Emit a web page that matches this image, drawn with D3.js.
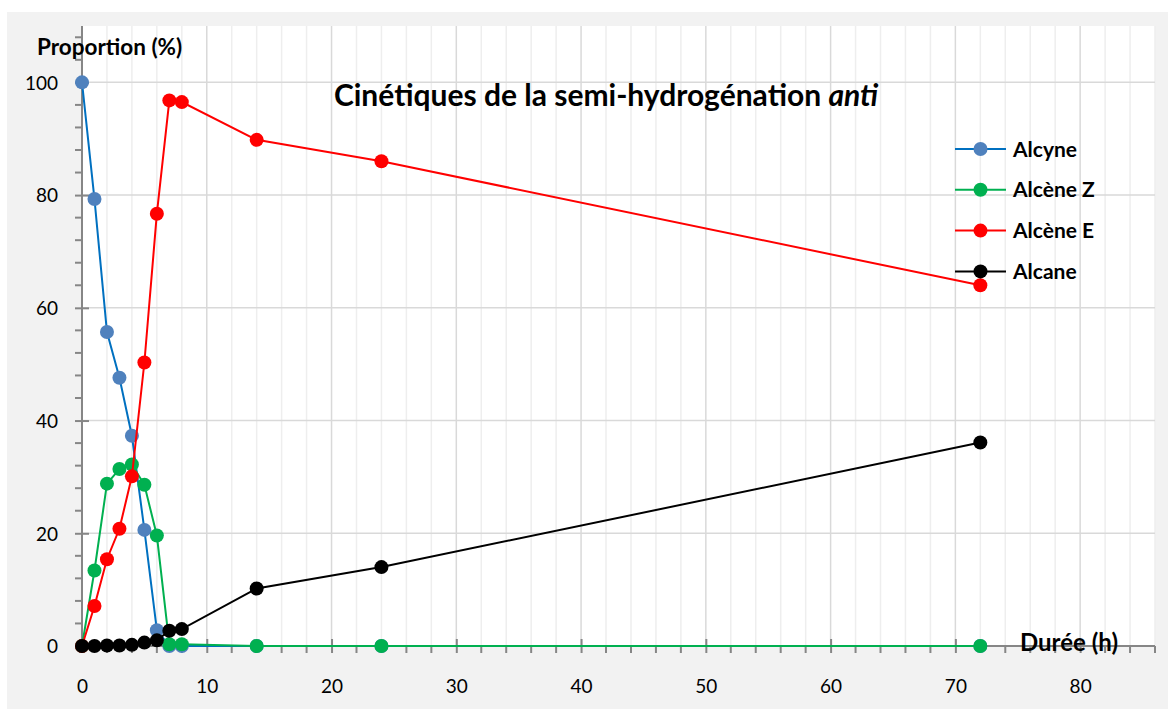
<!DOCTYPE html>
<html>
<head>
<meta charset="utf-8">
<script src="https://cdn.jsdelivr.net/npm/d3@7"></script>
<style>
  html, body { margin: 0; padding: 0; background: #ffffff; }
  svg { display: block; }
  text { font-family: Lato, "Open Sans", sans-serif; }
</style>
</head>
<body>
<svg id="chart" width="1168" height="709"></svg>
<script>
// Reaction times (h) and proportions (%) of each species
const hours = [0, 1, 2, 3, 4, 5, 6, 7, 8, 14, 24, 72];
const alcyne  = [100, 79.3, 55.7, 47.6, 37.3, 20.6, 2.8, 0, 0, 0, 0, 0];
const alceneZ = [0, 13.4, 28.8, 31.4, 32.2, 28.6, 19.6, 0.3, 0.3, 0, 0, 0];
const alceneE = [0, 7.1, 15.4, 20.8, 30.1, 50.3, 76.7, 96.8, 96.5, 89.8, 86.0, 64.0];
const alcane  = [0, 0, 0.1, 0.1, 0.2, 0.6, 1.0, 2.7, 3.0, 10.2, 14.0, 36.1];

const seriesNames = ["Alcyne", "Alcène Z", "Alcène E", "Alcane"];
const seriesValues = [alcyne, alceneZ, alceneE, alcane];
const lineColors = ["#0070c0", "#00b050", "#ff0000", "#000000"];
const markerColors = ["#4f81bd", "#00b050", "#ff0000", "#000000"];

const xTicks = [0, 10, 20, 30, 40, 50, 60, 70, 80];
const yTicks = [0, 20, 40, 60, 80, 100];

const svg = d3.select("#chart");

// Chart frame and plot area
svg.append("rect").attr("x", 7).attr("y", 12).attr("width", 1161).attr("height", 697).attr("fill", "#f2f2f2");

const x = d3.scaleLinear().domain([0, 86]).range([82, 1155]);
const y = d3.scaleLinear().domain([0, 110]).range([646, 26]);

svg.append("rect")
  .attr("x", x(0)).attr("y", y(110))
  .attr("width", x(86) - x(0)).attr("height", y(0) - y(110))
  .attr("fill", "#ffffff");

// Vertical gridlines every 2 h, darker on the tens
const vGrid = d3.range(2, 87, 2);
svg.append("g").selectAll("line").data(vGrid).join("line")
  .attr("x1", d => x(d)).attr("x2", d => x(d))
  .attr("y1", y(110)).attr("y2", y(0))
  .attr("stroke", d => d % 10 === 0 ? "#d9d9d9" : "#eeeeee")
  .attr("stroke-width", 1.5);

// Horizontal gridlines on major y ticks
svg.append("g").selectAll("line").data(yTicks.filter(d => d > 0)).join("line")
  .attr("x1", x(0)).attr("x2", x(86))
  .attr("y1", d => y(d)).attr("y2", d => y(d))
  .attr("stroke", "#d9d9d9").attr("stroke-width", 1.5);

// Y axis
const yAxis = d3.axisLeft(y).tickValues(yTicks).tickSize(7).tickPadding(17);
const gy = svg.append("g").attr("transform", `translate(${x(0)},0)`).call(yAxis);
gy.select(".domain").remove();
gy.selectAll(".tick line").attr("stroke", "#868686").attr("stroke-width", 2).attr("x2", 7).attr("x1", -7);
gy.selectAll(".tick text").attr("font-size", 19).attr("fill", "#000").attr("font-family", "Lato").attr("dy", "0.36em");
const yMinor = d3.range(4, 111, 4).filter(d => d % 20 !== 0);
svg.append("g").selectAll("line").data(yMinor).join("line")
  .attr("x1", x(0) - 7).attr("x2", x(0))
  .attr("y1", d => y(d)).attr("y2", d => y(d))
  .attr("stroke", "#868686").attr("stroke-width", 2);
svg.append("line").attr("x1", x(0)).attr("x2", x(0)).attr("y1", y(110)).attr("y2", y(0))
  .attr("stroke", "#868686").attr("stroke-width", 2);

// X axis
const xAxis = d3.axisBottom(x).tickValues(xTicks).tickSize(7).tickPadding(27);
const gx = svg.append("g").attr("transform", `translate(0,${y(0)})`).call(xAxis);
gx.select(".domain").remove();
gx.selectAll(".tick line").attr("stroke", "#868686").attr("stroke-width", 2).attr("y1", -7).attr("y2", 7);
gx.selectAll(".tick text").attr("font-size", 19).attr("fill", "#000").attr("font-family", "Lato");
const xMinor = d3.range(2, 87, 2).filter(d => d % 10 !== 0);
svg.append("g").selectAll("line").data(xMinor).join("line")
  .attr("x1", d => x(d)).attr("x2", d => x(d))
  .attr("y1", y(0)).attr("y2", y(0) + 7)
  .attr("stroke", "#868686").attr("stroke-width", 2);
svg.append("line").attr("x1", x(0)).attr("x2", x(86)).attr("y1", y(0)).attr("y2", y(0))
  .attr("stroke", "#868686").attr("stroke-width", 2);

// Series: line then markers, drawn in legend order
const line = d3.line().x(d => x(d[0])).y(d => y(d[1]));
seriesValues.forEach((vals, i) => {
  const pts = hours.map((h, j) => [h, vals[j]]);
  const g = svg.append("g");
  g.append("path").datum(pts).attr("d", line)
    .attr("fill", "none").attr("stroke", lineColors[i]).attr("stroke-width", 2);
  g.selectAll("circle").data(pts).join("circle")
    .attr("cx", d => x(d[0])).attr("cy", d => y(d[1])).attr("r", 7)
    .attr("fill", markerColors[i]);
});

// Legend
const legend = svg.append("g");
seriesNames.forEach((name, i) => {
  const ly = 149 + i * 40.8;
  legend.append("line").attr("x1", 955).attr("x2", 1006).attr("y1", ly).attr("y2", ly)
    .attr("stroke", lineColors[i]).attr("stroke-width", 2);
  legend.append("circle").attr("cx", 980.5).attr("cy", ly).attr("r", 7).attr("fill", markerColors[i]);
  legend.append("text").attr("x", 1013).attr("y", ly).attr("dy", "0.36em")
    .attr("font-size", 21).attr("font-weight", "bold").attr("fill", "#000").text(name);
});

// Titles
const title = svg.append("text").attr("x", 606).attr("y", 106).attr("text-anchor", "middle")
  .attr("font-size", 30).attr("font-weight", "bold").attr("fill", "#000");
title.append("tspan").text("Cinétiques de la semi-hydrogénation ");
title.append("tspan").attr("font-style", "italic").text("anti");

svg.append("text").attr("x", 37).attr("y", 55)
  .attr("font-size", 22.5).attr("font-weight", "bold").attr("fill", "#000").text("Proportion (%)");

svg.append("text").attr("x", 1020).attr("y", 651)
  .attr("font-size", 24).attr("font-weight", "bold").attr("fill", "#000").text("Durée (h)");
</script>
</body>
</html>
